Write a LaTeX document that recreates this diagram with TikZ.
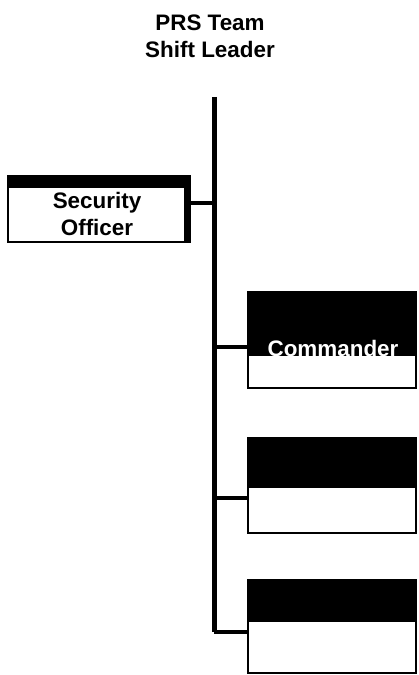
\documentclass[tikz,border=0pt]{standalone}
\usepackage{fontspec}
\setmainfont{Liberation Sans}
\usetikzlibrary{shapes.misc}

\tikzset{
  postbox/.style={draw=black, line width=2.5bp, fill=white,
    chamfered rectangle, chamfered rectangle corners=north west,
    chamfered rectangle xsep=10bp, chamfered rectangle ysep=10bp,
    inner sep=0pt, outer sep=0pt, anchor=north west,
    minimum width=168bp,
    path picture={\fill[black] (path picture bounding box.north west)
      rectangle ([yshift=-#1]path picture bounding box.north east);}},
  sidebox/.style={draw=black, line width=2.5bp, fill=white,
    chamfered rectangle, chamfered rectangle corners=south east,
    chamfered rectangle xsep=7bp, chamfered rectangle ysep=7bp,
    inner sep=0pt, outer sep=0pt, anchor=north west,
    path picture={\fill[black] (path picture bounding box.north west)
      rectangle ([yshift=-12bp]path picture bounding box.north east);
      \fill[black] ([xshift=-6bp]path picture bounding box.north east)
      rectangle (path picture bounding box.south east);}},
  label/.style={font=\fontsize{22.5}{27}\selectfont\bfseries, align=center, inner sep=0pt},
  trunk/.style={line width=5bp},
  link/.style={line width=4bp},
}

\begin{document}
\begin{tikzpicture}[x=1bp, y=-1bp]
  \useasboundingbox (0,0) rectangle (418,675);

  % leader at the top
  \node[label] (lead) at (210,36) {PRS Team\\Shift Leader};

  % spine
  \coordinate (top) at (214,97);
  \coordinate (bottom) at (214,632);
  \draw[trunk] (top) -- (bottom);

  % staff post to the left
  \node[sidebox, minimum width=182bp, minimum height=66bp] (sec) at (8,176) {};
  \node[label] (sectext) at (97,214) {Security\\Officer};
  \coordinate (j0) at ([yshift=6bp]sec.east);
  \draw[link] (j0) -- (j0 -| top);

  % posts to the right
  \node[postbox=64bp, minimum height=96bp] (cmdr) at (248,292) {};
  \node[label, text=white] (cmdrtext) at (333,348) {Commander};
  \node[postbox=50bp, minimum height=95bp] (postb) at (248,438) {};
  \node[postbox=42bp, minimum height=93bp] (postc) at (248,580) {};

  \coordinate (j1) at ([yshift=-7bp]cmdr.west);
  \coordinate (j2) at ([yshift=-12bp]postb.west);
  \coordinate (j3) at ([yshift=-5bp]postc.west);
  \draw[link] (j1) -- (j1 -| top);
  \draw[link] (j2) -- (j2 -| top);
  \draw[link] (j3) -- (j3 -| top);
\end{tikzpicture}
\end{document}
